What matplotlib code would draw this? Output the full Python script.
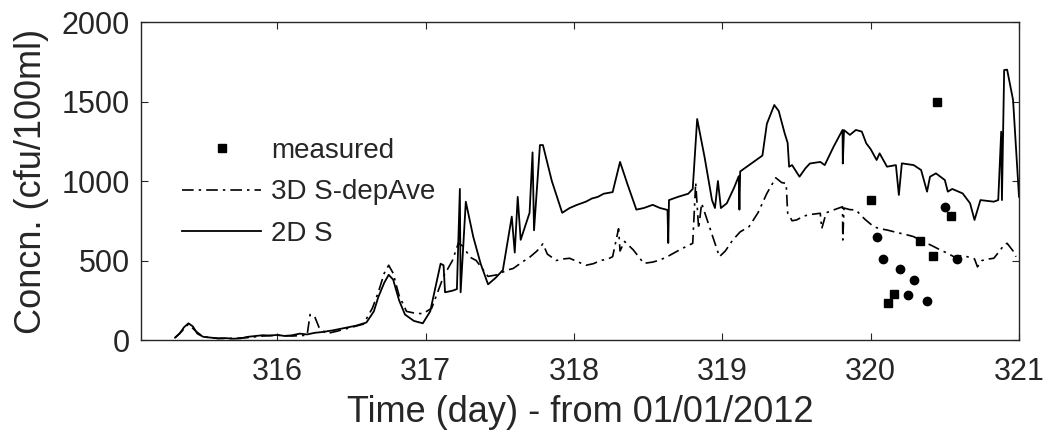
import matplotlib
matplotlib.use("Agg")
import matplotlib.pyplot as plt

plt.rcParams['font.family'] = ['Liberation Sans', 'DejaVu Sans']

# ---- data ----
t_2d = [315.31, 315.34, 315.37, 315.40, 315.43, 315.46, 315.50, 315.55, 315.60, 315.65,
        315.70, 315.75, 315.80, 315.85, 315.90, 315.95, 316.00, 316.05, 316.10, 316.15,
        316.20, 316.25, 316.30, 316.37, 316.45, 316.53, 316.60, 316.65, 316.68, 316.72,
        316.75, 316.78, 316.82, 316.86, 316.92, 316.98, 317.03, 317.07, 317.10, 317.12,
        317.13, 317.18, 317.21, 317.23, 317.235, 317.27, 317.32, 317.37, 317.42, 317.47,
        317.52, 317.58, 317.60, 317.62, 317.64, 317.70, 317.72, 317.73, 317.77, 317.79,
        317.85, 317.92, 317.97, 318.02, 318.08, 318.12, 318.16, 318.20, 318.26, 318.31,
        318.36, 318.42, 318.47, 318.53, 318.58, 318.63, 318.635, 318.64, 318.70, 318.77,
        318.80, 318.83, 318.88, 318.93, 318.95, 318.97, 318.99, 319.03, 319.08, 319.11,
        319.115, 319.12, 319.18, 319.24, 319.27, 319.30, 319.35, 319.38, 319.42, 319.44,
        319.45, 319.47, 319.52, 319.56, 319.59, 319.66, 319.69, 319.75, 319.81, 319.812,
        319.82, 319.86, 319.90, 319.94, 319.97, 320.00, 320.04, 320.06, 320.11, 320.17,
        320.19, 320.21, 320.29, 320.34, 320.38, 320.40, 320.44, 320.50, 320.52, 320.55,
        320.62, 320.67, 320.70, 320.74, 320.83, 320.86, 320.88, 320.885, 320.90, 320.92,
        320.96, 321.00]
v_2d = [15, 40, 80, 105, 85, 40, 20, 15, 10, 12,
        8, 10, 20, 25, 30, 28, 32, 25, 30, 40,
        35, 45, 50, 60, 75, 90, 110, 180, 270, 360,
        410, 380, 250, 160, 120, 105, 180, 350, 480, 470,
        300, 310, 320, 950, 300, 870, 650, 480, 350, 390,
        440, 776, 550, 900, 630, 800, 1180, 690, 1226, 1226,
        1000, 800, 830, 850, 870, 890, 900, 920, 930, 1120,
        980, 820, 830, 850, 830, 818, 610, 880, 900, 920,
        950, 1390, 1150, 880, 830, 1000, 830, 860, 960, 1030,
        820, 1060, 1100, 1140, 1160, 1360, 1478, 1440, 1300, 1240,
        1090, 1100, 1027, 1080, 1110, 1120, 1100, 1216, 1321, 1110,
        1320, 1290, 1321, 1311, 1237, 1200, 1132, 1174, 1090, 1100,
        912, 1111, 1100, 1069, 933, 1027, 1048, 1006, 933, 950,
        922, 860, 755, 880, 870, 880, 1310, 880, 1698, 1700,
        1509, 901]

t_3d = [315.31, 315.35, 315.40, 315.45, 315.50, 315.60, 315.70, 315.80, 315.90, 316.00,
        316.10, 316.20, 316.22, 316.25, 316.28, 316.33, 316.40, 316.50, 316.58, 316.64,
        316.68, 316.72, 316.75, 316.78, 316.82, 316.87, 316.92, 316.98, 317.04, 317.08,
        317.12, 317.15, 317.18, 317.22, 317.25, 317.30, 317.34, 317.38, 317.42, 317.48,
        317.55, 317.59, 317.65, 317.70, 317.75, 317.79, 317.82, 317.88, 317.93, 317.97,
        318.03, 318.08, 318.13, 318.18, 318.23, 318.26, 318.30, 318.31, 318.34, 318.40,
        318.47, 318.53, 318.58, 318.64, 318.71, 318.76, 318.80, 318.82, 318.84, 318.86,
        318.89, 318.95, 318.98, 319.02, 319.07, 319.12, 319.18, 319.24, 319.30, 319.36,
        319.40, 319.43, 319.44, 319.47, 319.50, 319.55, 319.60, 319.66, 319.67, 319.70,
        319.75, 319.81, 319.812, 319.82, 319.86, 319.90, 319.96, 320.02, 320.06, 320.11,
        320.16, 320.20, 320.25, 320.29, 320.33, 320.38, 320.42, 320.47, 320.52, 320.56,
        320.60, 320.65, 320.70, 320.72, 320.75, 320.80, 320.83, 320.87, 320.90, 320.92,
        320.96, 320.98]
v_3d = [15, 50, 100, 55, 20, 10, 10, 15, 25, 30,
        25, 30, 160, 150, 80, 40, 55, 80, 100, 200,
        300, 420, 470, 420, 280, 180, 170, 165, 200, 300,
        400, 450, 500, 610, 590, 520, 500, 450, 400, 410,
        440, 450, 490, 520, 560, 605, 540, 500, 510, 514,
        490, 470, 480, 500, 510, 524, 700, 560, 620, 566,
        482, 490, 503, 530, 566, 590, 608, 990, 700, 860,
        776, 608, 524, 560, 629, 680, 713, 800, 922, 1020,
        990, 985, 800, 750, 755, 780, 790, 797, 700, 800,
        818, 838, 629, 830, 820, 818, 760, 713, 700, 692,
        680, 671, 660, 650, 630, 608, 590, 566, 545, 524,
        530, 524, 510, 460, 500, 510, 514, 560, 600, 608,
        560, 524]

t_meas_sq = [320.45, 320.00, 320.54, 320.33, 320.42, 320.16, 320.12]
v_meas_sq = [1500, 881, 780, 625, 526, 292, 235]
t_meas_ci = [320.50, 320.04, 320.08, 320.58, 320.20, 320.29, 320.25, 320.38]
v_meas_ci = [839, 645, 508, 508, 445, 380, 280, 244]

x_ticks = [316, 317, 318, 319, 320, 321]
y_ticks = [0, 500, 1000, 1500, 2000]

# ---- figure ----
fig = plt.figure(figsize=(10.46, 4.44), dpi=100)
ax = fig.add_axes([141/1046, 1 - 340/444, (1019 - 141)/1046, (340 - 22)/444])

ax.plot(t_meas_sq, v_meas_sq, linestyle='none', marker='s', ms=5.5, color='black',
        label='measured')
ax.plot(t_meas_ci, v_meas_ci, linestyle='none', marker='o', ms=6, color='black')
ax.plot(t_3d, v_3d, linestyle=(0, (7, 3, 1.5, 3)), lw=1.2, color='black',
        label='3D S-depAve')
ax.plot(t_2d, v_2d, linestyle='-', lw=1.3, color='black', label='2D S')

ax.set_xlim(315.08, 321)
ax.set_ylim(0, 2000)
ax.set_xticks(x_ticks)
ax.set_yticks(y_ticks)
ax.tick_params(direction='in', length=5, width=0.8, top=True, right=True,
               labelsize=22, colors='#262626', pad=8)
ax.tick_params(axis='x', pad=12)
for s in ax.spines.values():
    s.set_linewidth(1.0)
    s.set_color('#262626')

ax.set_xlabel('Time (day) - from 01/01/2012', fontsize=26, color='#262626', labelpad=6)
ax.set_ylabel('Concn. (cfu/100ml)', fontsize=26, color='#262626', labelpad=9)

leg = ax.legend(loc='upper left', bbox_to_anchor=(0.047, 0.635), frameon=False,
                fontsize=20, handlelength=2.84, handletextpad=0.36, labelspacing=0.55,
                borderpad=0, borderaxespad=0)
for txt in leg.get_texts():
    txt.set_color('#262626')

fig.savefig('out.png', dpi=100)
